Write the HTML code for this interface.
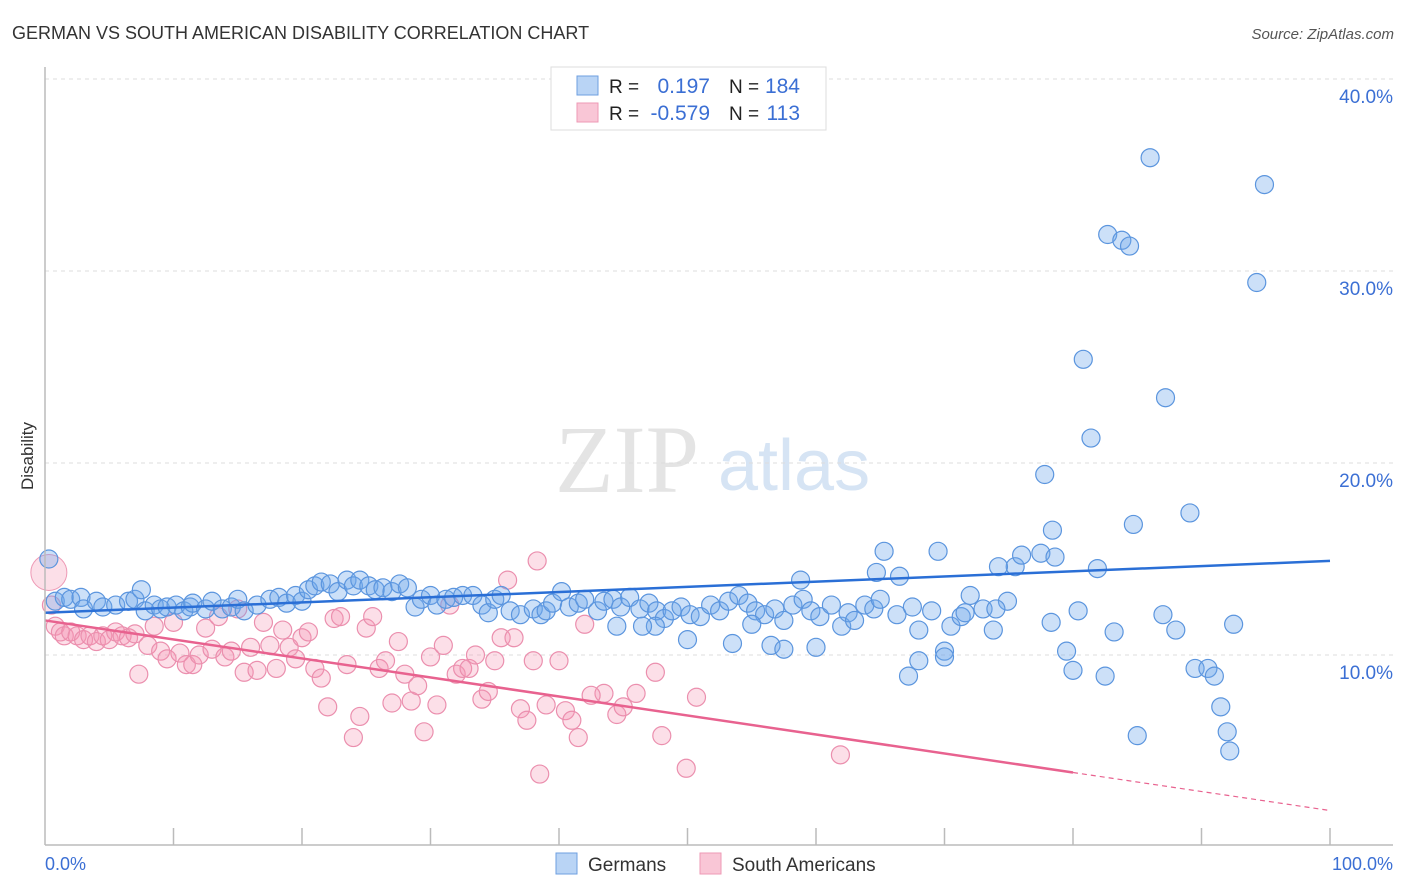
<!DOCTYPE html>
<html><head><meta charset="utf-8"><style>
body{margin:0;background:#fff;font-family:"Liberation Sans",sans-serif}
svg{display:block}
</style></head><body>
<svg id="c" width="1406" height="892">
<text x="12" y="39" font-size="18" fill="#333">GERMAN VS SOUTH AMERICAN DISABILITY CORRELATION CHART</text>
<text x="1394" y="39" font-size="15" fill="#555" font-style="italic" text-anchor="end">Source: ZipAtlas.com</text>
<text x="33" y="456" font-size="17" fill="#333" transform="rotate(-90 33 456)" text-anchor="middle">Disability</text>
<text x="555" y="492" font-size="96" fill="#e4e4e4" font-family="Liberation Serif,serif">ZIP</text>
<text x="718" y="490" font-size="72" fill="#d6e4f4">atlas</text>
<g id="grid"></g><g id="pts"></g><g id="lines"></g>
<line x1="45" y1="67" x2="45" y2="845" stroke="#bbb" stroke-width="1.5"/>
<line x1="45" y1="845" x2="1393" y2="845" stroke="#bbb" stroke-width="1.5"/>
<text x="45" y="870" font-size="18" fill="#3b6fd4">0.0%</text>
<text x="1393" y="870" font-size="18" fill="#3b6fd4" text-anchor="end">100.0%</text>
<g>
<rect x="551" y="67" width="275" height="63" fill="#fff" stroke="#ddd"/>
<rect x="577" y="76" width="21" height="19" fill="#b9d4f5" stroke="#6e9fe0"/>
<rect x="577" y="103" width="21" height="19" fill="#f9c6d6" stroke="#ee99b5"/>
<text x="609" y="93" font-size="19" fill="#222">R =</text><text x="710" y="93" font-size="21" fill="#3b6fd4" text-anchor="end">0.197</text>
<text x="729" y="93" font-size="19" fill="#222">N =</text><text x="800" y="93" font-size="21" fill="#3b6fd4" text-anchor="end">184</text>
<text x="609" y="120" font-size="19" fill="#222">R =</text><text x="710" y="120" font-size="21" fill="#3b6fd4" text-anchor="end">-0.579</text>
<text x="729" y="120" font-size="19" fill="#222">N =</text><text x="800" y="120" font-size="21" fill="#3b6fd4" text-anchor="end">113</text>
</g>
<g>
<rect x="556" y="853" width="21" height="21" fill="#b9d4f5" stroke="#6e9fe0"/>
<text x="588" y="871" font-size="19" fill="#333">Germans</text>
<rect x="700" y="853" width="21" height="21" fill="#f9c6d6" stroke="#ee99b5"/>
<text x="732" y="871" font-size="19" fill="#333">South Americans</text>
</g>
</svg>
<script>
const yTicks=[10,20,30,40];
const xTicks=[10,20,30,40,50,60,70,80,90,100];
const germans=[[0.3,15.0],[0.8,12.8],[1.5,13.0],[2,12.9],[2.8,13],[3,12.4],[4,12.8],[4.5,12.5],[5.5,12.6],[6.5,12.8],[7,12.9],[7.5,13.4],[7.8,12.3],[8.5,12.6],[9,12.4],[9.5,12.5],[10.2,12.6],[10.8,12.3],[11.3,12.5],[11.5,12.7],[12.5,12.4],[13,12.8],[13.8,12.4],[14.5,12.5],[15,12.9],[15.5,12.3],[16.5,12.6],[17.5,12.9],[18.2,13.0],[18.8,12.7],[19.5,13.1],[20,12.8],[20.5,13.4],[21,13.6],[21.5,13.8],[22.2,13.7],[22.8,13.3],[23.5,13.9],[24,13.6],[24.5,13.9],[25.2,13.6],[25.7,13.4],[26.3,13.5],[27,13.3],[27.6,13.7],[28.2,13.5],[28.8,12.5],[29.3,12.9],[30,13.1],[30.5,12.6],[31.2,12.9],[31.8,13.0],[32.5,13.1],[33.3,13.1],[34,12.6],[34.5,12.2],[35,12.9],[35.5,13.1],[36.2,12.3],[37,12.1],[38,12.4],[38.6,12.1],[39,12.3],[39.5,12.7],[40.2,13.3],[40.8,12.5],[41.5,12.7],[42,12.9],[43,12.3],[43.5,12.8],[44.2,12.9],[44.8,12.5],[45.5,13.0],[46.3,12.4],[47,12.7],[47.6,12.3],[48.2,11.9],[48.8,12.3],[49.5,12.5],[50.2,12.1],[51,12.0],[51.8,12.6],[52.5,12.3],[53.2,12.8],[54,13.1],[54.7,12.7],[55.3,12.3],[56,12.1],[56.8,12.4],[57.5,11.8],[58.2,12.6],[59,12.9],[59.6,12.3],[60.3,12.0],[61.2,12.6],[62,11.5],[62.5,12.2],[63,11.8],[63.8,12.6],[64.5,12.4],[65.3,15.4],[64.7,14.3],[66.5,14.1],[58.8,13.9],[65,12.9],[66.3,12.1],[67.5,12.5],[68,11.3],[69,12.3],[70,10.2],[70.5,11.5],[71.3,12.0],[72,13.1],[74.9,12.8],[75.5,14.6],[76,15.2],[73.8,11.3],[69.5,15.4],[71.6,12.2],[73,12.4],[77.5,15.3],[78.6,15.1],[80.4,12.3],[81.9,14.5],[78.3,11.7],[79.5,10.2],[80,9.2],[82.5,8.9],[83.2,11.2],[85,5.8],[87,12.1],[88,11.3],[89.5,9.3],[90.5,9.3],[91,8.9],[92.5,11.6],[91.5,7.3],[92,6.0],[92.2,5.0],[67.2,8.9],[68,9.7],[70,9.9],[53.5,10.6],[55,11.6],[56.5,10.5],[57.5,10.3],[60,10.4],[50,10.8],[47.5,11.5],[44.5,11.5],[46.5,11.5],[86,35.9],[94.9,34.5],[82.7,31.9],[83.8,31.6],[84.4,31.3],[94.3,29.4],[80.8,25.4],[87.2,23.4],[81.4,21.3],[77.8,19.4],[78.4,16.5],[84.7,16.8],[89.1,17.4],[74.2,14.6],[74,12.4]];
const southAmericans=[[0.5,12.6],[0.8,11.5],[1.2,11.2],[1.5,11.0],[2,11.2],[2.5,11.0],[3,10.8],[3.5,11.0],[4,10.7],[4.5,11.0],[5,10.8],[5.5,11.2],[6,11.0],[6.5,10.9],[7,11.1],[7.3,9.0],[8,10.5],[8.5,11.5],[9,10.2],[9.5,9.8],[10,11.7],[10.5,10.1],[11,9.5],[11.5,9.5],[12,10.0],[12.5,11.4],[13,10.3],[13.5,12.0],[14,9.9],[14.5,10.2],[15,12.4],[15.5,9.1],[16,10.4],[16.5,9.2],[17,11.7],[17.5,10.5],[18,9.3],[18.5,11.3],[19,10.4],[19.5,9.8],[20,10.9],[20.5,11.2],[21,9.3],[21.5,8.8],[22,7.3],[22.5,11.9],[23,12.0],[23.5,9.5],[24,5.7],[24.5,6.8],[25,11.4],[25.5,12.0],[26,9.3],[26.5,9.7],[27,7.5],[27.5,10.7],[28,9.0],[28.5,7.6],[29,8.4],[29.5,6.0],[30,9.9],[30.5,7.4],[31,10.5],[31.5,12.6],[32,9.0],[32.5,9.3],[33,9.3],[33.5,10.0],[34,7.7],[34.5,8.1],[35,9.7],[35.5,10.9],[36,13.9],[36.5,10.9],[37,7.2],[37.5,6.6],[38,9.7],[38.5,3.8],[39,7.4],[40,9.7],[40.5,7.1],[41,6.6],[41.5,5.7],[42,11.6],[43.5,8.0],[44.5,6.9],[45,7.3],[46,8.0],[38.3,14.9],[47.5,9.1],[48,5.8],[50.7,7.8],[49.9,4.1],[61.9,4.8],[42.5,7.9]];
const bigPink=[0.3,14.3];
const blueTrend=[12.2,14.9];
const pinkTrend=[11.8,1.9];
const NS='http://www.w3.org/2000/svg';
const X=v=>45+v*12.85, Y=v=>847-v*19.2;
function mk(t,a,p){const e=document.createElementNS(NS,t);for(const k in a)e.setAttribute(k,a[k]);p.appendChild(e);return e;}
const grid=document.getElementById('grid'),pts=document.getElementById('pts'),lines=document.getElementById('lines');
yTicks.forEach(v=>{
 const l=mk('line',{x1:45,x2:1393,y1:Y(v),y2:Y(v),stroke:'#ddd','stroke-dasharray':'4,4'},grid);
 
 
 const t=mk('text',{x:1393,y:Y(v)+24,'font-size':19,fill:'#3b6fd4','text-anchor':'end'},grid);t.textContent=v.toFixed(1)+'%';
 
 
});
xTicks.forEach(v=>{
 const l=mk('line',{x1:X(v),x2:X(v),y1:828,y2:845,stroke:'#bbb','stroke-width':1.5},grid);
 
 
});
const bp=mk('circle',{cx:X(bigPink[0]),cy:Y(bigPink[1]),r:18,fill:'rgba(245,150,180,0.3)',stroke:'#ee99b5'},pts);


southAmericans.forEach(d=>{
 const c=mk('circle',{cx:X(d[0]),cy:Y(d[1]),r:9,fill:'rgba(245,150,180,0.3)',stroke:'#eb8fae','stroke-width':1.2},pts);
 
 
});
germans.forEach(d=>{
 const c=mk('circle',{cx:X(d[0]),cy:Y(d[1]),r:9,fill:'rgba(110,165,235,0.35)',stroke:'#5b95de','stroke-width':1.2},pts);
 
 
});
const bl=mk('line',{x1:X(0),y1:Y(blueTrend[0]),x2:X(100),y2:Y(blueTrend[1]),stroke:'#2a6fd6','stroke-width':2.5},lines);


const py=x=>pinkTrend[0]+(pinkTrend[1]-pinkTrend[0])*x/100;
const pl=mk('line',{x1:X(0),y1:Y(py(0)),x2:X(80),y2:Y(py(80)),stroke:'#e8628f','stroke-width':2.5},lines);


const pd=mk('line',{x1:X(80),y1:Y(py(80)),x2:X(100),y2:Y(py(100)),stroke:'#e8628f','stroke-width':1.2,'stroke-dasharray':'5,4'},lines);


</script>
</body></html>
